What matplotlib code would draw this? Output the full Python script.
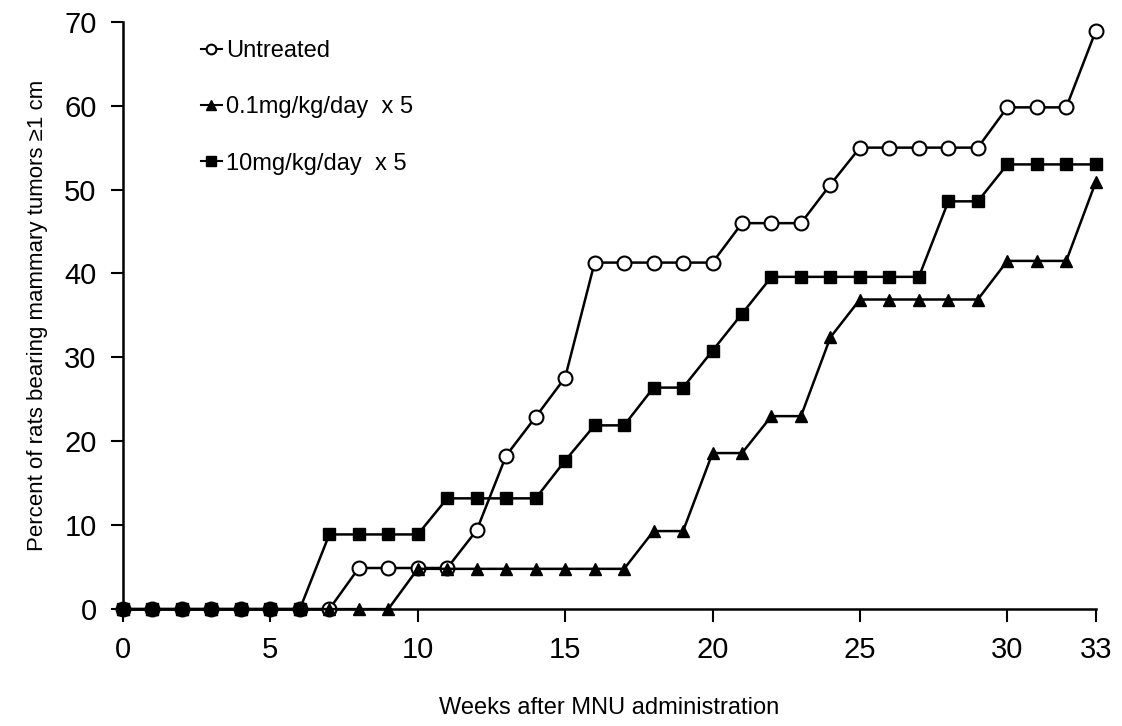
import matplotlib
matplotlib.use("Agg")
import matplotlib.pyplot as plt

plt.rcParams['font.family'] = ['Liberation Sans', 'DejaVu Sans']

# weeks after MNU administration
weeks = list(range(0, 34))

# percent of rats bearing mammary tumors >= 1 cm
untreated = [0, 0, 0, 0, 0, 0, 0, 0, 4.9, 4.9, 4.9, 4.9, 9.4, 18.3, 22.9, 27.6,
             41.3, 41.3, 41.3, 41.3, 41.3, 46.0, 46.0, 46.0, 50.6, 55.0, 55.0,
             55.0, 55.0, 55.0, 59.8, 59.8, 59.8, 68.9]
low_dose = [0, 0, 0, 0, 0, 0, 0, 0, 0, 0, 4.8, 4.8, 4.8, 4.8, 4.8, 4.8, 4.8,
            4.8, 9.3, 9.3, 18.6, 18.6, 23.0, 23.0, 32.4, 36.9, 36.9, 36.9,
            36.9, 36.9, 41.5, 41.5, 41.5, 50.9]
high_dose = [0, 0, 0, 0, 0, 0, 0, 8.9, 8.9, 8.9, 8.9, 13.2, 13.2, 13.2, 13.2,
             17.7, 21.9, 21.9, 26.4, 26.4, 30.8, 35.2, 39.6, 39.6, 39.6, 39.6,
             39.6, 39.6, 48.6, 48.6, 53.0, 53.0, 53.0, 53.0]

labels = ['Untreated', '0.1mg/kg/day  x 5', '10mg/kg/day  x 5']
xticks = [0, 5, 10, 15, 20, 25, 30, 33]
yticks = [0, 10, 20, 30, 40, 50, 60, 70]

fig = plt.figure(figsize=(11.22, 7.26), dpi=100)
ax = fig.add_axes([0.1096, 0.161, 0.867, 0.809])

ax.plot(weeks, untreated, '-o', color='black', lw=1.8, ms=10,
        mfc='white', mec='black', mew=1.5, clip_on=False, zorder=3,
        label=labels[0])
ax.plot(weeks, low_dose, '-^', color='black', lw=1.8, ms=9,
        clip_on=False, zorder=3, label=labels[1])
ax.plot(weeks, high_dose, '-s', color='black', lw=1.8, ms=9,
        clip_on=False, zorder=3, label=labels[2])

ax.set_xlim(0, 33)
ax.set_ylim(0, 70)
ax.set_xticks(xticks)
ax.set_yticks(yticks)

for s in ['top', 'right']:
    ax.spines[s].set_visible(False)
for s in ['left', 'bottom']:
    ax.spines[s].set_linewidth(1.8)

ax.tick_params(axis='both', direction='out', length=9, width=1.5,
               labelsize=21, pad=10)
ax.tick_params(axis='x', pad=10)

ax.set_xlabel('Weeks after MNU administration', fontsize=17, labelpad=24)
ax.set_ylabel('Percent of rats bearing mammary tumors \u22651 cm', fontsize=16,
              labelpad=12)

leg = ax.legend(loc='upper left', bbox_to_anchor=(0.07, 0.985), frameon=False,
                fontsize=17, handlelength=0.9, handletextpad=0.2,
                labelspacing=1.45, borderaxespad=0)
for h in leg.legend_handles:
    h.set_markersize(7)
    h.set_linewidth(1.5)

fig.savefig('out.png', dpi=100)
plt.close(fig)
